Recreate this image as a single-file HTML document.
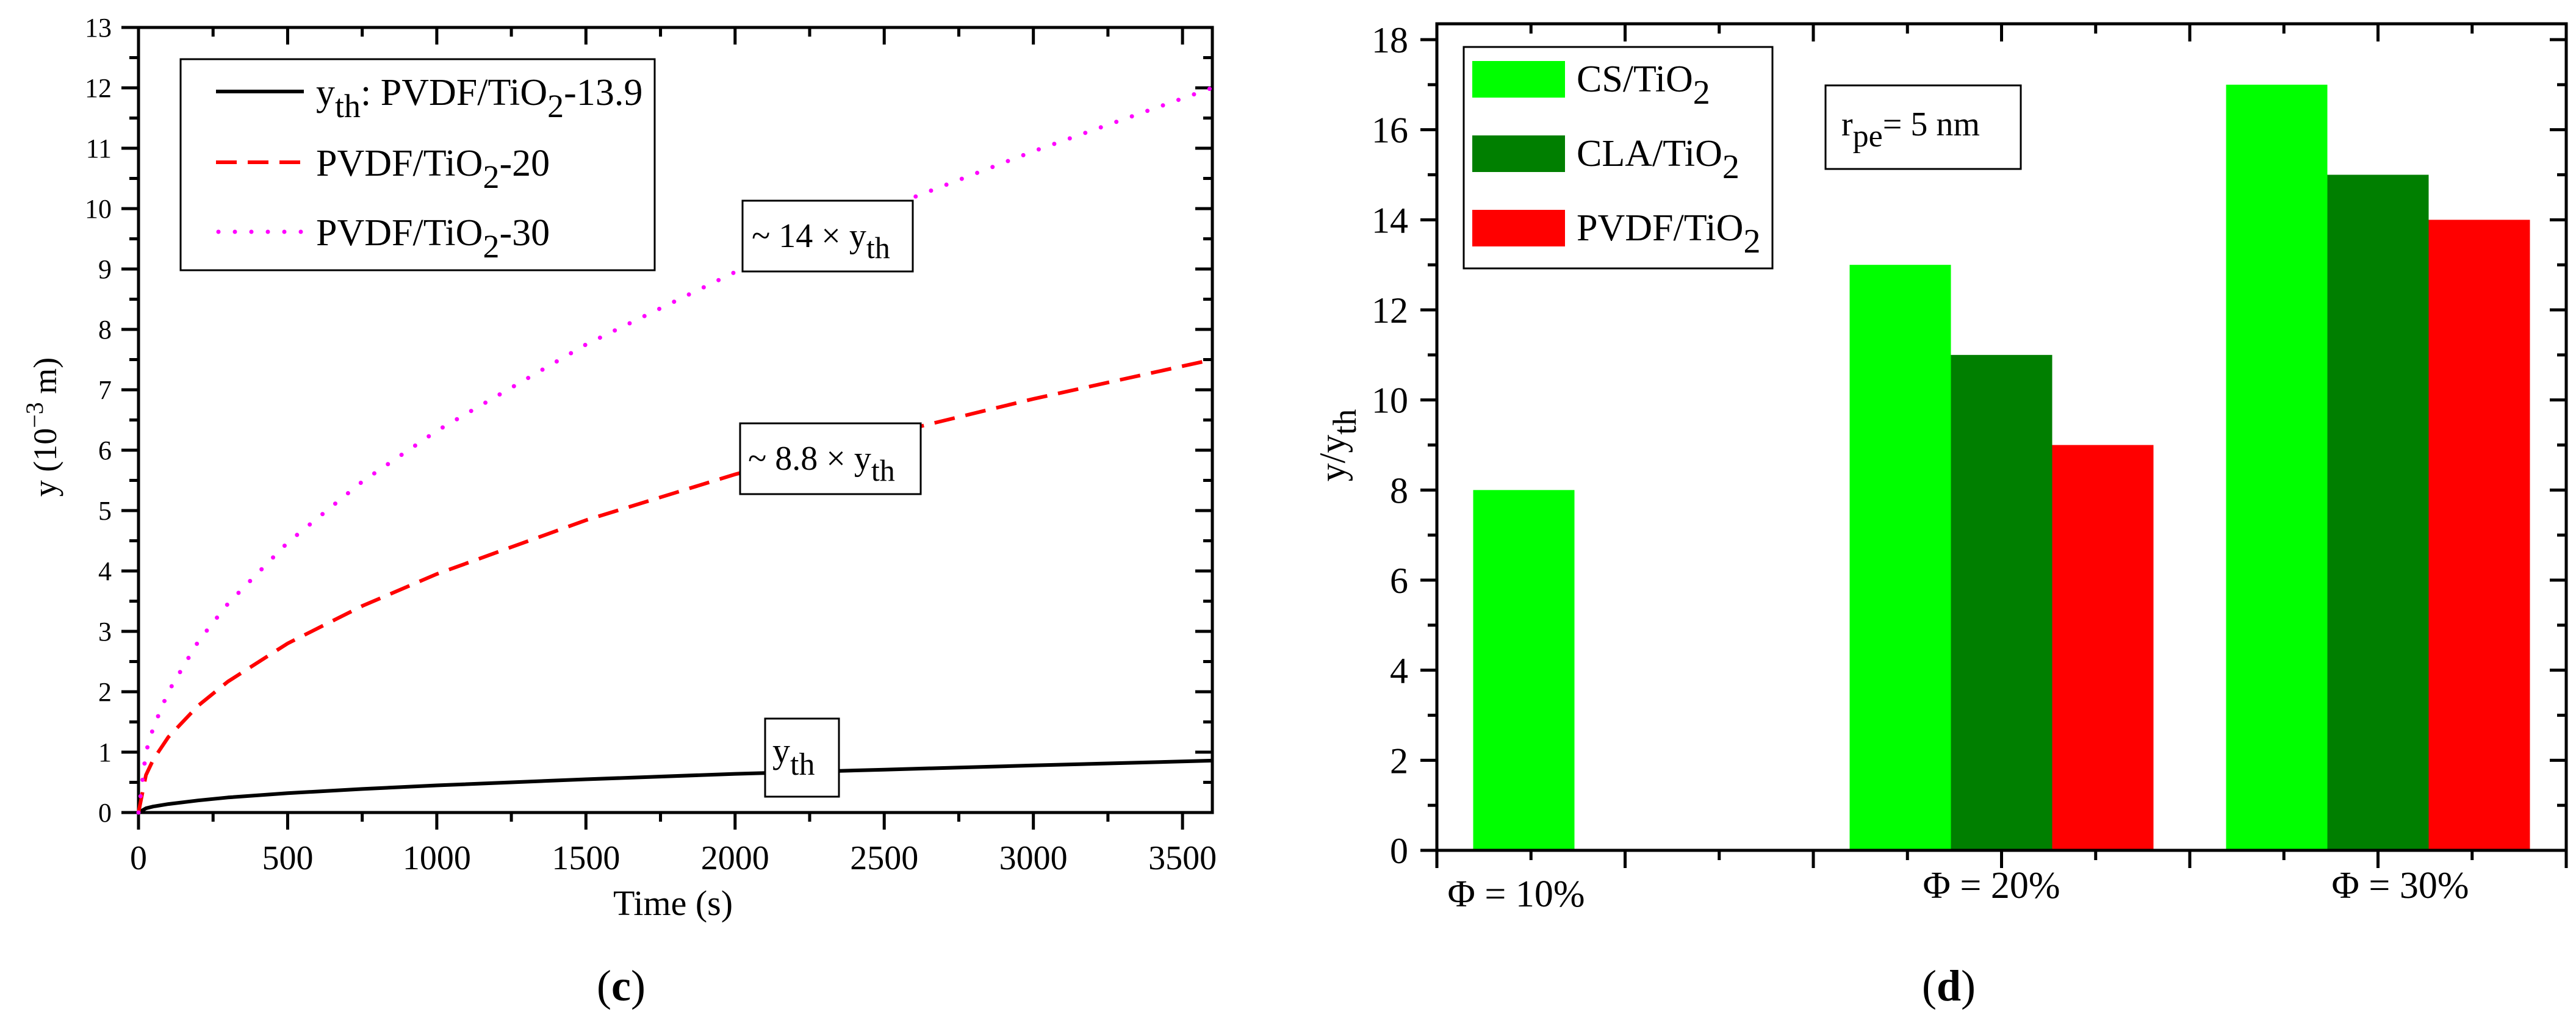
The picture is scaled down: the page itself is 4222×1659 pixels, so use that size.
<!DOCTYPE html>
<html><head><meta charset="utf-8"><style>
html,body{margin:0;padding:0;background:#fff}
svg{display:block}
text,tspan{font-family:"Liberation Serif","DejaVu Serif",serif;fill:#000}
</style></head><body>
<svg id="fig" width="4222" height="1659" viewBox="0 0 4222 1659" xmlns="http://www.w3.org/2000/svg" font-family="Liberation Serif, serif">
<g id="left"></g>
<g id="right"></g>
</svg>
<script>
// ---- Chart (c) data ----
const timeS = [0, 25, 50, 100, 200, 300, 500, 750, 1000, 1500, 2000, 2500, 3000, 3600];
const yTh = [0, 0.07, 0.1, 0.14, 0.2, 0.25, 0.32, 0.39, 0.45, 0.55, 0.64, 0.71, 0.78, 0.86];
const y20 = [0, 0.62, 0.88, 1.25, 1.77, 2.17, 2.8, 3.42, 3.95, 4.84, 5.6, 6.25, 6.85, 7.5];
const y30 = [0, 1.0, 1.41, 2.0, 2.83, 3.46, 4.47, 5.48, 6.32, 7.75, 8.95, 10.0, 10.95, 12.0];
const xTickLabels = ["0","500","1000","1500","2000","2500","3000","3500"];
const yTickLabelsC = ["0","1","2","3","4","5","6","7","8","9","10","11","12","13"];
// ---- Chart (d) data ----
const phiCategories = ["Φ = 10%","Φ = 20%","Φ = 30%"];
const csValues = [8, 13, 17];
const claValues = [null, 11, 15];
const pvdfValues = [null, 9, 14];
const yTickLabelsD = ["0","2","4","6","8","10","12","14","16","18"];

const NS = "http://www.w3.org/2000/svg";
function mk(parent, tag, attrs, txt){
  const e = document.createElementNS(NS, tag);
  for (const k in attrs) e.setAttribute(k, attrs[k]);
  if (tag === 'text') e.setAttribute('font-family', 'Liberation Serif, serif');
  if (txt !== undefined) e.textContent = txt;
  parent.appendChild(e);
  return e;
}

// ================= Chart C =================
(function(){
  const g = document.getElementById('left');
  const X0=227, X1=1987, Y0=1332, Y1=45;
  const sx = v => X0 + (v/3600)*(X1-X0);
  const sy = v => Y0 - (v/13)*(Y0-Y1);
  const frame = mk(g,'rect',{x:X0,y:Y1,width:X1-X0,height:Y0-Y1,fill:'none',stroke:'#000','stroke-width':5});
  
  
  for (let v=0; v<=3600; v+=250){
    const major = v%500===0;
    const L = major?28:15;
    const x = sx(v);
    mk(g,'line',{x1:x,y1:Y0,x2:x,y2:Y0+L,stroke:'#000','stroke-width':5});
    mk(g,'line',{x1:x,y1:Y1,x2:x,y2:Y1+L,stroke:'#000','stroke-width':5});
  }
  xTickLabels.forEach((lab,i)=>{
    const t = mk(g,'text',{x:sx(i*500),y:1425,'font-size':56,'text-anchor':'middle'},lab);
    
    
  });
  for (let v=0; v<=13; v+=0.5){
    const major = Math.abs(v-Math.round(v))<1e-6;
    const L = major?28:15;
    const y = sy(v);
    mk(g,'line',{x1:X0-L,y1:y,x2:X0,y2:y,stroke:'#000','stroke-width':5});
    mk(g,'line',{x1:X1-L,y1:y,x2:X1,y2:y,stroke:'#000','stroke-width':5});
  }
  yTickLabelsC.forEach((lab,i)=>{
    const t = mk(g,'text',{x:183,y:sy(i)+15,'font-size':44,'text-anchor':'end'},lab);
    
    
  });
  const xt = mk(g,'text',{x:1103,y:1500,'font-size':58,'text-anchor':'middle'},'Time (s)');
  
  
  const yt = mk(g,'text',{x:0,y:0,'font-size':54,'text-anchor':'middle',transform:'translate(92,700) rotate(-90)'});
  
  
  mk(yt,'tspan',{},'y (10');
  mk(yt,'tspan',{dy:-22,'font-size':40},'−3');
  mk(yt,'tspan',{dy:22},' m)');

  function path(vals){
    let d='';
    timeS.forEach((t,i)=>{ d += (i?'L':'M')+sx(t).toFixed(1)+','+sy(vals[i]).toFixed(1); });
    return d;
  }
  const p1 = mk(g,'path',{d:path(yTh),fill:'none',stroke:'#000','stroke-width':6,'stroke-linejoin':'round'});
  
  
  const p2 = mk(g,'path',{d:path(y20),fill:'none',stroke:'#ff0000','stroke-width':6,'stroke-dasharray':'34 18'});
  
  
  const p3 = mk(g,'path',{d:path(y30),fill:'none',stroke:'#ff00ff','stroke-width':7,'stroke-dasharray':'0 27','stroke-linecap':'round'});
  
  

  function box(x,y,w,h,name){
    const r = mk(g,'rect',{x:x,y:y,width:w,height:h,fill:'#fff',stroke:'#000','stroke-width':3});
    
    
  }
  box(1217,329,279,116,'annotation-14x');
  let t = mk(g,'text',{x:1232,y:405,'font-size':56});
  
  
  mk(t,'tspan',{},'~ 14 × y'); mk(t,'tspan',{dy:18,'font-size':50},'th');
  box(1213,694,296,116,'annotation-8-8x');
  t = mk(g,'text',{x:1226,y:770,'font-size':56});
  
  
  mk(t,'tspan',{},'~ 8.8 × y'); mk(t,'tspan',{dy:18,'font-size':50},'th');
  box(1254,1178,121,128,'annotation-yth');
  t = mk(g,'text',{x:1266,y:1250,'font-size':58});
  
  
  mk(t,'tspan',{},'y'); mk(t,'tspan',{dy:20,'font-size':52},'th');

  const lg = mk(g,'g',{});
  
  
  mk(lg,'rect',{x:296,y:97,width:777,height:346,fill:'#fff',stroke:'#000','stroke-width':3});
  mk(lg,'line',{x1:354,y1:150,x2:498,y2:150,stroke:'#000','stroke-width':6});
  mk(lg,'line',{x1:354,y1:266,x2:498,y2:266,stroke:'#ff0000','stroke-width':6,'stroke-dasharray':'34 18'});
  mk(lg,'line',{x1:358,y1:380,x2:498,y2:380,stroke:'#ff00ff','stroke-width':7,'stroke-dasharray':'0 27','stroke-linecap':'round'});
  t = mk(lg,'text',{x:518,y:172,'font-size':62});
  
  
  mk(t,'tspan',{},'y'); mk(t,'tspan',{dy:20,'font-size':54},'th'); mk(t,'tspan',{dy:-20},': PVDF/TiO');
  mk(t,'tspan',{dy:20,'font-size':54},'2'); mk(t,'tspan',{dy:-20},'-13.9');
  t = mk(lg,'text',{x:518,y:288,'font-size':62});
  
  
  mk(t,'tspan',{},'PVDF/TiO'); mk(t,'tspan',{dy:20,'font-size':54},'2'); mk(t,'tspan',{dy:-20},'-20');
  t = mk(lg,'text',{x:518,y:402,'font-size':62});
  
  
  mk(t,'tspan',{},'PVDF/TiO'); mk(t,'tspan',{dy:20,'font-size':54},'2'); mk(t,'tspan',{dy:-20},'-30');

  const cap = mk(g,'text',{x:1018,y:1640,'font-size':72,'text-anchor':'middle'});
  
  
  mk(cap,'tspan',{},'(');mk(cap,'tspan',{'font-weight':'bold'},'c');mk(cap,'tspan',{},')');
})();

// ================= Chart D =================
(function(){
  const g = document.getElementById('right');
  const X0=2355, X1=4206, Y0=1394, Ytop=39;
  const ppu = (1394-65)/18;
  const sy = v => Y0 - v*ppu;
  const unit = (X1-X0)/3;
  const sx = c => X0 + (c+0.5)*unit;
  const bw = 166;
  const colors = ['#00ff00','#007f00','#ff0000'];
  const series = [csValues, claValues, pvdfValues];
  const names = ['bar-cs','bar-cla','bar-pvdf'];
  series.forEach((vals,si)=>{
    vals.forEach((v,ci)=>{
      if (v===null) return;
      const x = sx(ci) + (si-1)*bw - bw/2;
      const r = mk(g,'rect',{x:x,y:sy(v),width:bw,height:Y0-sy(v),fill:colors[si]});
      
      
    });
  });
  const f = mk(g,'path',{d:`M${X0},${Y0}V${Ytop}H${X1}V${Y0}Z`,fill:'none',stroke:'#000','stroke-width':5});
  
  
  for (let v=0; v<=18; v+=1){
    const major = v%2===0;
    const L = major?27:15;
    const y = sy(v);
    mk(g,'line',{x1:X0-L,y1:y,x2:X0,y2:y,stroke:'#000','stroke-width':5});
    mk(g,'line',{x1:X1-L,y1:y,x2:X1,y2:y,stroke:'#000','stroke-width':5});
  }
  yTickLabelsD.forEach((lab,i)=>{
    const t = mk(g,'text',{x:2308,y:sy(i*2)+21,'font-size':60,'text-anchor':'end'},lab);
    
    
  });
  for (let k=0;k<=12;k++){
    const x = X0 + k*unit/4;
    const major = k%2===0;
    const L = major?29:16;
    mk(g,'line',{x1:x,y1:Y0,x2:x,y2:Y0+L,stroke:'#000','stroke-width':5});
    mk(g,'line',{x1:x,y1:Ytop,x2:x,y2:Ytop+L,stroke:'#000','stroke-width':5});
  }
  const labX = [2485, 3264, 3934];
  const labY = [1486, 1472, 1472];
  phiCategories.forEach((lab,i)=>{
    const t = mk(g,'text',{x:labX[i],y:labY[i],'font-size':62,'text-anchor':'middle'},lab);
    
    
  });
  const yt = mk(g,'text',{x:0,y:0,'font-size':60,'text-anchor':'middle',transform:'translate(2204,730) rotate(-90)'});
  
  
  mk(yt,'tspan',{},'y/y'); mk(yt,'tspan',{dy:18,'font-size':54},'th');

  const lg = mk(g,'g',{});
  
  
  mk(lg,'rect',{x:2399,y:77,width:506,height:363,fill:'#fff',stroke:'#000','stroke-width':3});
  const legLabels = ['CS/TiO','CLA/TiO','PVDF/TiO'];
  const legY = [100,222,344];
  legLabels.forEach((lab,i)=>{
    mk(lg,'rect',{x:2413,y:legY[i],width:152,height:60,fill:colors[i]});
    const t = mk(lg,'text',{x:2584,y:legY[i]+50,'font-size':62});
    
    
    mk(t,'tspan',{},lab); mk(t,'tspan',{dy:20,'font-size':56},'2');
  });
  const rb = mk(g,'rect',{x:2992,y:140,width:320,height:137,fill:'#fff',stroke:'#000','stroke-width':3});
  
  
  const rt = mk(g,'text',{x:3018,y:222,'font-size':56});
  
  
  mk(rt,'tspan',{},'r'); mk(rt,'tspan',{dy:18,'font-size':52},'pe'); mk(rt,'tspan',{dy:-18},'= 5 nm');

  const cap = mk(g,'text',{x:3194,y:1640,'font-size':72,'text-anchor':'middle'});
  
  
  mk(cap,'tspan',{},'(');mk(cap,'tspan',{'font-weight':'bold'},'d');mk(cap,'tspan',{},')');
})();
</script>
</body></html>
